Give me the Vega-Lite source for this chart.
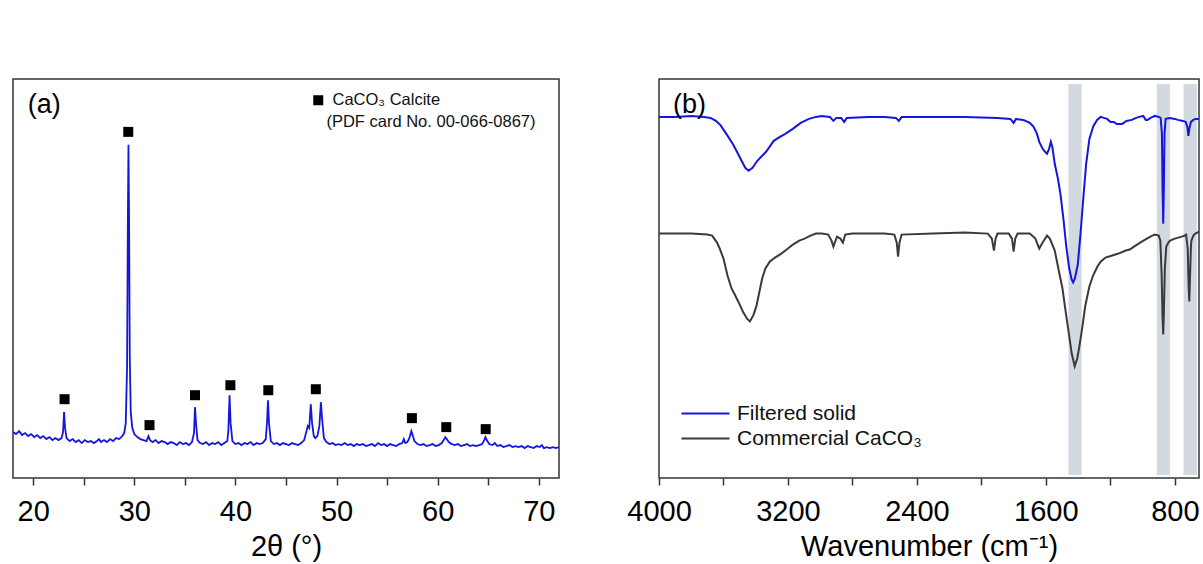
{
"$schema": "https://vega.github.io/schema/vega-lite/v6.json",
"padding": {"left": 12, "top": 78, "right": 5, "bottom": 0},
"bounds": "flush",
"spacing": 100,
"background": "white",
"config": {
  "font": "Liberation Sans",
  "view": {"stroke": "#333", "strokeWidth": 1.5},
  "axis": {"grid": false, "domain": false, "ticks": true, "tickSize": 7, "tickWidth": 1.5, "tickColor": "#333", "labelFontSize": 29, "labelColor": "#000", "labelPadding": 12, "labelFlush": false, "titleFontSize": 29, "titleFontWeight": "normal", "titleColor": "#000", "titlePadding": 6, "labelFont": "Liberation Sans", "titleFont": "Liberation Sans"}
},
"resolve": {"scale": {"color": "independent"}, "legend": {"color": "independent"}},
"datasets": {
  "xrd": [
{"t":18.0,"i":46},{"t":18.3,"i":44},{"t":18.6,"i":47},{"t":18.9,"i":43},{"t":19.2,"i":45},{"t":19.5,"i":42},{"t":19.8,"i":44},{"t":20.1,"i":41},{"t":20.4,"i":43},{"t":20.7,"i":40},{"t":21.0,"i":42},{"t":21.3,"i":39},{"t":21.6,"i":41},{"t":21.9,"i":38},{"t":22.2,"i":40},{"t":22.5,"i":38},{"t":22.8,"i":40},{"t":22.95,"i":46},{"t":23.05,"i":66},{"t":23.15,"i":50},{"t":23.3,"i":40},{"t":23.6,"i":37},{"t":23.9,"i":39},{"t":24.2,"i":36},{"t":24.5,"i":38},{"t":24.8,"i":35},{"t":25.1,"i":38},{"t":25.4,"i":36},{"t":25.7,"i":37},{"t":26.0,"i":35},{"t":26.3,"i":37},{"t":26.5,"i":39},{"t":26.7,"i":36},{"t":27.0,"i":38},{"t":27.3,"i":36},{"t":27.6,"i":39},{"t":27.9,"i":37},{"t":28.2,"i":40},{"t":28.5,"i":39},{"t":28.8,"i":42},{"t":29.0,"i":45},{"t":29.15,"i":55},{"t":29.28,"i":110},{"t":29.36,"i":260},{"t":29.42,"i":334},{"t":29.48,"i":260},{"t":29.55,"i":120},{"t":29.65,"i":65},{"t":29.8,"i":50},{"t":30.0,"i":44},{"t":30.3,"i":41},{"t":30.6,"i":39},{"t":30.9,"i":38},{"t":31.2,"i":37},{"t":31.4,"i":42},{"t":31.55,"i":38},{"t":31.8,"i":36},{"t":32.1,"i":38},{"t":32.4,"i":35},{"t":32.7,"i":37},{"t":33.0,"i":36},{"t":33.3,"i":34},{"t":33.6,"i":36},{"t":33.9,"i":35},{"t":34.2,"i":33},{"t":34.5,"i":36},{"t":34.8,"i":34},{"t":35.1,"i":35},{"t":35.4,"i":33},{"t":35.7,"i":36},{"t":35.9,"i":45},{"t":36.0,"i":71},{"t":36.1,"i":55},{"t":36.25,"i":38},{"t":36.5,"i":35},{"t":36.8,"i":34},{"t":37.1,"i":36},{"t":37.4,"i":33},{"t":37.7,"i":35},{"t":38.0,"i":34},{"t":38.3,"i":36},{"t":38.6,"i":33},{"t":38.9,"i":35},{"t":39.2,"i":37},{"t":39.3,"i":48},{"t":39.42,"i":83},{"t":39.52,"i":55},{"t":39.7,"i":37},{"t":40.0,"i":34},{"t":40.3,"i":35},{"t":40.6,"i":33},{"t":40.9,"i":35},{"t":41.2,"i":34},{"t":41.5,"i":36},{"t":41.8,"i":33},{"t":42.1,"i":35},{"t":42.4,"i":34},{"t":42.7,"i":35},{"t":43.0,"i":39},{"t":43.12,"i":55},{"t":43.22,"i":78},{"t":43.32,"i":55},{"t":43.5,"i":37},{"t":43.8,"i":34},{"t":44.1,"i":35},{"t":44.4,"i":33},{"t":44.7,"i":35},{"t":45.0,"i":34},{"t":45.3,"i":33},{"t":45.6,"i":35},{"t":45.9,"i":34},{"t":46.2,"i":33},{"t":46.5,"i":35},{"t":46.8,"i":38},{"t":47.05,"i":48},{"t":47.15,"i":52},{"t":47.3,"i":50},{"t":47.45,"i":74},{"t":47.58,"i":55},{"t":47.75,"i":42},{"t":47.9,"i":40},{"t":48.1,"i":42},{"t":48.3,"i":52},{"t":48.45,"i":76},{"t":48.58,"i":58},{"t":48.75,"i":40},{"t":49.0,"i":36},{"t":49.3,"i":34},{"t":49.6,"i":35},{"t":49.9,"i":33},{"t":50.2,"i":34},{"t":50.5,"i":33},{"t":50.8,"i":35},{"t":51.1,"i":33},{"t":51.4,"i":34},{"t":51.7,"i":32},{"t":52.0,"i":34},{"t":52.3,"i":33},{"t":52.6,"i":34},{"t":52.9,"i":32},{"t":53.2,"i":33},{"t":53.5,"i":34},{"t":53.8,"i":32},{"t":54.1,"i":35},{"t":54.4,"i":33},{"t":54.7,"i":34},{"t":55.0,"i":32},{"t":55.3,"i":34},{"t":55.6,"i":33},{"t":55.9,"i":32},{"t":56.2,"i":34},{"t":56.5,"i":35},{"t":56.65,"i":39},{"t":56.8,"i":35},{"t":57.0,"i":36},{"t":57.2,"i":40},{"t":57.4,"i":47},{"t":57.55,"i":42},{"t":57.7,"i":37},{"t":58.0,"i":34},{"t":58.3,"i":33},{"t":58.6,"i":34},{"t":58.9,"i":32},{"t":59.2,"i":33},{"t":59.5,"i":34},{"t":59.8,"i":32},{"t":60.1,"i":33},{"t":60.4,"i":35},{"t":60.6,"i":38},{"t":60.75,"i":41},{"t":60.9,"i":39},{"t":61.1,"i":36},{"t":61.4,"i":34},{"t":61.7,"i":33},{"t":62.0,"i":34},{"t":62.3,"i":32},{"t":62.6,"i":33},{"t":62.9,"i":34},{"t":63.2,"i":32},{"t":63.5,"i":33},{"t":63.8,"i":32},{"t":64.1,"i":33},{"t":64.4,"i":34},{"t":64.6,"i":38},{"t":64.72,"i":41},{"t":64.85,"i":38},{"t":65.1,"i":34},{"t":65.4,"i":33},{"t":65.65,"i":35},{"t":65.9,"i":32},{"t":66.2,"i":33},{"t":66.5,"i":31},{"t":66.8,"i":32},{"t":67.1,"i":33},{"t":67.4,"i":31},{"t":67.7,"i":32},{"t":68.0,"i":31},{"t":68.3,"i":32},{"t":68.6,"i":30},{"t":68.9,"i":32},{"t":69.2,"i":31},{"t":69.5,"i":30},{"t":69.8,"i":32},{"t":70.1,"i":31},{"t":70.3,"i":33},{"t":70.5,"i":30},{"t":70.8,"i":31},{"t":71.1,"i":30},{"t":71.4,"i":31},{"t":71.7,"i":30},{"t":72.0,"i":31}
  ],
  "calcite": [
{"t":23.1,"i":79,"phase":"CaCO₃ Calcite"},{"t":29.4,"i":347,"phase":"CaCO₃ Calcite"},{"t":31.5,"i":53,"phase":"CaCO₃ Calcite"},{"t":36.0,"i":83,"phase":"CaCO₃ Calcite"},{"t":39.5,"i":93,"phase":"CaCO₃ Calcite"},{"t":43.25,"i":88,"phase":"CaCO₃ Calcite"},{"t":47.95,"i":89,"phase":"CaCO₃ Calcite"},{"t":57.45,"i":60,"phase":"CaCO₃ Calcite"},{"t":60.85,"i":51,"phase":"CaCO₃ Calcite"},{"t":64.75,"i":49,"phase":"CaCO₃ Calcite"}
  ],
  "bands": [{"a":1460,"b":1378},{"a":912,"b":829},{"a":746,"b":663}],
  "ftir": [
{"s":"Filtered solid","w":4000,"v":362},{"s":"Filtered solid","w":3900,"v":362},{"s":"Filtered solid","w":3800,"v":363},{"s":"Filtered solid","w":3720,"v":362},{"s":"Filtered solid","w":3680,"v":361},{"s":"Filtered solid","w":3647,"v":358},{"s":"Filtered solid","w":3620,"v":354},{"s":"Filtered solid","w":3599,"v":349},{"s":"Filtered solid","w":3570,"v":342},{"s":"Filtered solid","w":3539,"v":334},{"s":"Filtered solid","w":3510,"v":325},{"s":"Filtered solid","w":3491,"v":319},{"s":"Filtered solid","w":3465,"v":311},{"s":"Filtered solid","w":3444,"v":308},{"s":"Filtered solid","w":3420,"v":311},{"s":"Filtered solid","w":3390,"v":318},{"s":"Filtered solid","w":3360,"v":323},{"s":"Filtered solid","w":3336,"v":327},{"s":"Filtered solid","w":3310,"v":333},{"s":"Filtered solid","w":3288,"v":338},{"s":"Filtered solid","w":3250,"v":342},{"s":"Filtered solid","w":3217,"v":345},{"s":"Filtered solid","w":3170,"v":350},{"s":"Filtered solid","w":3121,"v":356},{"s":"Filtered solid","w":3070,"v":360},{"s":"Filtered solid","w":3026,"v":362},{"s":"Filtered solid","w":2990,"v":363},{"s":"Filtered solid","w":2940,"v":362},{"s":"Filtered solid","w":2918,"v":358},{"s":"Filtered solid","w":2900,"v":361},{"s":"Filtered solid","w":2870,"v":361},{"s":"Filtered solid","w":2851,"v":357},{"s":"Filtered solid","w":2835,"v":361},{"s":"Filtered solid","w":2700,"v":362},{"s":"Filtered solid","w":2600,"v":362},{"s":"Filtered solid","w":2530,"v":361},{"s":"Filtered solid","w":2512,"v":358},{"s":"Filtered solid","w":2495,"v":362},{"s":"Filtered solid","w":2300,"v":362},{"s":"Filtered solid","w":2100,"v":362},{"s":"Filtered solid","w":1900,"v":361},{"s":"Filtered solid","w":1820,"v":360},{"s":"Filtered solid","w":1800,"v":356},{"s":"Filtered solid","w":1785,"v":360},{"s":"Filtered solid","w":1740,"v":359},{"s":"Filtered solid","w":1700,"v":356},{"s":"Filtered solid","w":1676,"v":352},{"s":"Filtered solid","w":1655,"v":345},{"s":"Filtered solid","w":1641,"v":337},{"s":"Filtered solid","w":1620,"v":330},{"s":"Filtered solid","w":1605,"v":327},{"s":"Filtered solid","w":1593,"v":325},{"s":"Filtered solid","w":1580,"v":330},{"s":"Filtered solid","w":1569,"v":337},{"s":"Filtered solid","w":1560,"v":332},{"s":"Filtered solid","w":1545,"v":315},{"s":"Filtered solid","w":1525,"v":300},{"s":"Filtered solid","w":1509,"v":284},{"s":"Filtered solid","w":1490,"v":258},{"s":"Filtered solid","w":1474,"v":233},{"s":"Filtered solid","w":1455,"v":210},{"s":"Filtered solid","w":1440,"v":199},{"s":"Filtered solid","w":1431,"v":196},{"s":"Filtered solid","w":1420,"v":200},{"s":"Filtered solid","w":1402,"v":214},{"s":"Filtered solid","w":1385,"v":245},{"s":"Filtered solid","w":1366,"v":284},{"s":"Filtered solid","w":1350,"v":315},{"s":"Filtered solid","w":1330,"v":340},{"s":"Filtered solid","w":1305,"v":353},{"s":"Filtered solid","w":1282,"v":359},{"s":"Filtered solid","w":1260,"v":362},{"s":"Filtered solid","w":1240,"v":361},{"s":"Filtered solid","w":1220,"v":360},{"s":"Filtered solid","w":1199,"v":357},{"s":"Filtered solid","w":1180,"v":357},{"s":"Filtered solid","w":1160,"v":355},{"s":"Filtered solid","w":1127,"v":355},{"s":"Filtered solid","w":1100,"v":358},{"s":"Filtered solid","w":1067,"v":359},{"s":"Filtered solid","w":1040,"v":361},{"s":"Filtered solid","w":1020,"v":362},{"s":"Filtered solid","w":996,"v":363},{"s":"Filtered solid","w":980,"v":359},{"s":"Filtered solid","w":970,"v":359},{"s":"Filtered solid","w":950,"v":361},{"s":"Filtered solid","w":924,"v":363},{"s":"Filtered solid","w":900,"v":362},{"s":"Filtered solid","w":888,"v":361},{"s":"Filtered solid","w":880,"v":345},{"s":"Filtered solid","w":876,"v":290},{"s":"Filtered solid","w":872,"v":255},{"s":"Filtered solid","w":868,"v":290},{"s":"Filtered solid","w":864,"v":345},{"s":"Filtered solid","w":857,"v":360},{"s":"Filtered solid","w":830,"v":361},{"s":"Filtered solid","w":800,"v":360},{"s":"Filtered solid","w":781,"v":359},{"s":"Filtered solid","w":750,"v":358},{"s":"Filtered solid","w":733,"v":357},{"s":"Filtered solid","w":722,"v":352},{"s":"Filtered solid","w":716,"v":343},{"s":"Filtered solid","w":710,"v":350},{"s":"Filtered solid","w":700,"v":357},{"s":"Filtered solid","w":685,"v":359},{"s":"Filtered solid","w":670,"v":360},{"s":"Filtered solid","w":651,"v":360},
{"s":"Commercial CaCO₃","w":4000,"v":245},{"s":"Commercial CaCO₃","w":3900,"v":245},{"s":"Commercial CaCO₃","w":3800,"v":245},{"s":"Commercial CaCO₃","w":3700,"v":244},{"s":"Commercial CaCO₃","w":3670,"v":243},{"s":"Commercial CaCO₃","w":3640,"v":236},{"s":"Commercial CaCO₃","w":3623,"v":230},{"s":"Commercial CaCO₃","w":3600,"v":220},{"s":"Commercial CaCO₃","w":3575,"v":203},{"s":"Commercial CaCO₃","w":3550,"v":190},{"s":"Commercial CaCO₃","w":3527,"v":183},{"s":"Commercial CaCO₃","w":3500,"v":174},{"s":"Commercial CaCO₃","w":3480,"v":167},{"s":"Commercial CaCO₃","w":3455,"v":160},{"s":"Commercial CaCO₃","w":3436,"v":157},{"s":"Commercial CaCO₃","w":3415,"v":163},{"s":"Commercial CaCO₃","w":3396,"v":172},{"s":"Commercial CaCO₃","w":3378,"v":186},{"s":"Commercial CaCO₃","w":3360,"v":200},{"s":"Commercial CaCO₃","w":3340,"v":210},{"s":"Commercial CaCO₃","w":3312,"v":217},{"s":"Commercial CaCO₃","w":3280,"v":221},{"s":"Commercial CaCO₃","w":3241,"v":225},{"s":"Commercial CaCO₃","w":3200,"v":230},{"s":"Commercial CaCO₃","w":3169,"v":234},{"s":"Commercial CaCO₃","w":3130,"v":238},{"s":"Commercial CaCO₃","w":3097,"v":240},{"s":"Commercial CaCO₃","w":3060,"v":243},{"s":"Commercial CaCO₃","w":3026,"v":245},{"s":"Commercial CaCO₃","w":2990,"v":245},{"s":"Commercial CaCO₃","w":2950,"v":244},{"s":"Commercial CaCO₃","w":2930,"v":238},{"s":"Commercial CaCO₃","w":2918,"v":232},{"s":"Commercial CaCO₃","w":2905,"v":238},{"s":"Commercial CaCO₃","w":2895,"v":242},{"s":"Commercial CaCO₃","w":2875,"v":240},{"s":"Commercial CaCO₃","w":2859,"v":236},{"s":"Commercial CaCO₃","w":2845,"v":244},{"s":"Commercial CaCO₃","w":2800,"v":245},{"s":"Commercial CaCO₃","w":2700,"v":245},{"s":"Commercial CaCO₃","w":2600,"v":245},{"s":"Commercial CaCO₃","w":2540,"v":244},{"s":"Commercial CaCO₃","w":2525,"v":236},{"s":"Commercial CaCO₃","w":2517,"v":222},{"s":"Commercial CaCO₃","w":2508,"v":236},{"s":"Commercial CaCO₃","w":2495,"v":244},{"s":"Commercial CaCO₃","w":2300,"v":245},{"s":"Commercial CaCO₃","w":2100,"v":246},{"s":"Commercial CaCO₃","w":1960,"v":245},{"s":"Commercial CaCO₃","w":1935,"v":240},{"s":"Commercial CaCO₃","w":1922,"v":228},{"s":"Commercial CaCO₃","w":1912,"v":240},{"s":"Commercial CaCO₃","w":1900,"v":245},{"s":"Commercial CaCO₃","w":1830,"v":245},{"s":"Commercial CaCO₃","w":1810,"v":240},{"s":"Commercial CaCO₃","w":1800,"v":227},{"s":"Commercial CaCO₃","w":1790,"v":240},{"s":"Commercial CaCO₃","w":1775,"v":245},{"s":"Commercial CaCO₃","w":1700,"v":245},{"s":"Commercial CaCO₃","w":1665,"v":240},{"s":"Commercial CaCO₃","w":1641,"v":230},{"s":"Commercial CaCO₃","w":1620,"v":236},{"s":"Commercial CaCO₃","w":1593,"v":243},{"s":"Commercial CaCO₃","w":1575,"v":240},{"s":"Commercial CaCO₃","w":1545,"v":228},{"s":"Commercial CaCO₃","w":1520,"v":208},{"s":"Commercial CaCO₃","w":1497,"v":190},{"s":"Commercial CaCO₃","w":1480,"v":170},{"s":"Commercial CaCO₃","w":1462,"v":150},{"s":"Commercial CaCO₃","w":1440,"v":125},{"s":"Commercial CaCO₃","w":1421,"v":112},{"s":"Commercial CaCO₃","w":1405,"v":120},{"s":"Commercial CaCO₃","w":1391,"v":133},{"s":"Commercial CaCO₃","w":1375,"v":150},{"s":"Commercial CaCO₃","w":1355,"v":173},{"s":"Commercial CaCO₃","w":1330,"v":192},{"s":"Commercial CaCO₃","w":1307,"v":203},{"s":"Commercial CaCO₃","w":1280,"v":212},{"s":"Commercial CaCO₃","w":1259,"v":217},{"s":"Commercial CaCO₃","w":1230,"v":221},{"s":"Commercial CaCO₃","w":1188,"v":223},{"s":"Commercial CaCO₃","w":1150,"v":225},{"s":"Commercial CaCO₃","w":1104,"v":228},{"s":"Commercial CaCO₃","w":1080,"v":229},{"s":"Commercial CaCO₃","w":1044,"v":233},{"s":"Commercial CaCO₃","w":1005,"v":237},{"s":"Commercial CaCO₃","w":973,"v":240},{"s":"Commercial CaCO₃","w":940,"v":243},{"s":"Commercial CaCO₃","w":924,"v":244},{"s":"Commercial CaCO₃","w":900,"v":243},{"s":"Commercial CaCO₃","w":890,"v":238},{"s":"Commercial CaCO₃","w":882,"v":205},{"s":"Commercial CaCO₃","w":876,"v":160},{"s":"Commercial CaCO₃","w":872,"v":144},{"s":"Commercial CaCO₃","w":868,"v":165},{"s":"Commercial CaCO₃","w":862,"v":210},{"s":"Commercial CaCO₃","w":853,"v":232},{"s":"Commercial CaCO₃","w":840,"v":236},{"s":"Commercial CaCO₃","w":829,"v":238},{"s":"Commercial CaCO₃","w":800,"v":240},{"s":"Commercial CaCO₃","w":757,"v":242},{"s":"Commercial CaCO₃","w":740,"v":243},{"s":"Commercial CaCO₃","w":730,"v":244},{"s":"Commercial CaCO₃","w":720,"v":230},{"s":"Commercial CaCO₃","w":714,"v":190},{"s":"Commercial CaCO₃","w":710,"v":177},{"s":"Commercial CaCO₃","w":706,"v":200},{"s":"Commercial CaCO₃","w":700,"v":232},{"s":"Commercial CaCO₃","w":697,"v":238},{"s":"Commercial CaCO₃","w":685,"v":243},{"s":"Commercial CaCO₃","w":673,"v":245},{"s":"Commercial CaCO₃","w":660,"v":246},{"s":"Commercial CaCO₃","w":651,"v":247}
  ]
},
"hconcat": [
 {
  "width": 546, "height": 399,
  "layer": [
   {"data": {"name": "xrd"},
    "mark": {"type": "line", "color": "#1515e0", "strokeWidth": 1.8, "clip": true},
    "encoding": {
      "x": {"field": "t", "type": "quantitative", "scale": {"domain": [18, 72], "nice": false, "zero": false},
            "axis": {"values": [20,25,30,35,40,45,50,55,60,65,70], "labelExpr": "datum.value % 10 === 0 ? datum.label : ''", "title": "2θ (°)", "format": "d"}},
      "y": {"field": "i", "type": "quantitative", "scale": {"domain": [0, 399]}, "axis": null}
    }},
   {"data": {"name": "calcite"},
    "mark": {"type": "square", "size": 100, "filled": true, "opacity": 1},
    "encoding": {
      "x": {"field": "t", "type": "quantitative"},
      "y": {"field": "i", "type": "quantitative"},
      "color": {"field": "phase", "type": "nominal", "scale": {"range": ["#000000"]},
        "legend": {"title": null, "orient": "none", "legendX": 297, "legendY": 13, "padding": 0, "symbolSize": 100, "symbolType": "square", "labelFontSize": 16.5, "labelColor": "#111", "labelOffset": 6, "labelLimit": 0, "symbolStrokeWidth": 0}}
    }},
   {"data": {"values": [{}]},
    "mark": {"type": "text", "text": "(PDF card No. 00-066-0867)", "align": "left", "baseline": "middle", "fontSize": 16.5, "color": "#111"},
    "encoding": {"x": {"datum": 49.0}, "y": {"datum": 357}}},
   {"data": {"values": [{}]},
    "mark": {"type": "text", "text": "(a)", "align": "left", "baseline": "middle", "fontSize": 27, "color": "#000"},
    "encoding": {"x": {"datum": 19.45}, "y": {"datum": 374}}}
  ]
 },
 {
  "width": 540, "height": 399,
  "layer": [
   {"data": {"name": "bands"},
    "mark": {"type": "rect", "color": "#d3d9e1"},
    "encoding": {
      "x": {"field": "a", "type": "quantitative", "scale": {"domain": [650, 4000], "reverse": true, "nice": false, "zero": false},
            "axis": {"values": [4000,3600,3200,2800,2400,2000,1600,1200,800], "labelExpr": "datum.value % 800 === 0 ? datum.label : ''", "title": "Wavenumber (cm⁻¹)", "format": "d"}},
      "x2": {"field": "b"},
      "y": {"datum": 395, "type": "quantitative", "scale": {"domain": [0, 399]}, "axis": null},
      "y2": {"datum": 3}
    }},
   {"data": {"name": "ftir"},
    "mark": {"type": "line", "strokeWidth": 2, "clip": true},
    "encoding": {
      "x": {"field": "w", "type": "quantitative"},
      "y": {"field": "v", "type": "quantitative", "axis": null},
      "color": {"field": "s", "type": "nominal", "scale": {"domain": ["Filtered solid", "Commercial CaCO₃"], "range": ["#1515e0", "#3a3a3a"]},
        "legend": {"title": null, "orient": "none", "legendX": 36, "legendY": 324, "padding": 0, "symbolType": "M-4,0H4", "symbolSize": 144, "symbolStrokeWidth": 2, "labelFontSize": 21, "labelColor": "#111", "labelOffset": 21, "labelLimit": 0, "rowPadding": 3}}
    }},
   {"data": {"values": [{}]},
    "mark": {"type": "text", "text": "(b)", "align": "left", "baseline": "middle", "fontSize": 27, "color": "#000"},
    "encoding": {"x": {"datum": 3913}, "y": {"datum": 374}}}
  ]
 }
]
}
